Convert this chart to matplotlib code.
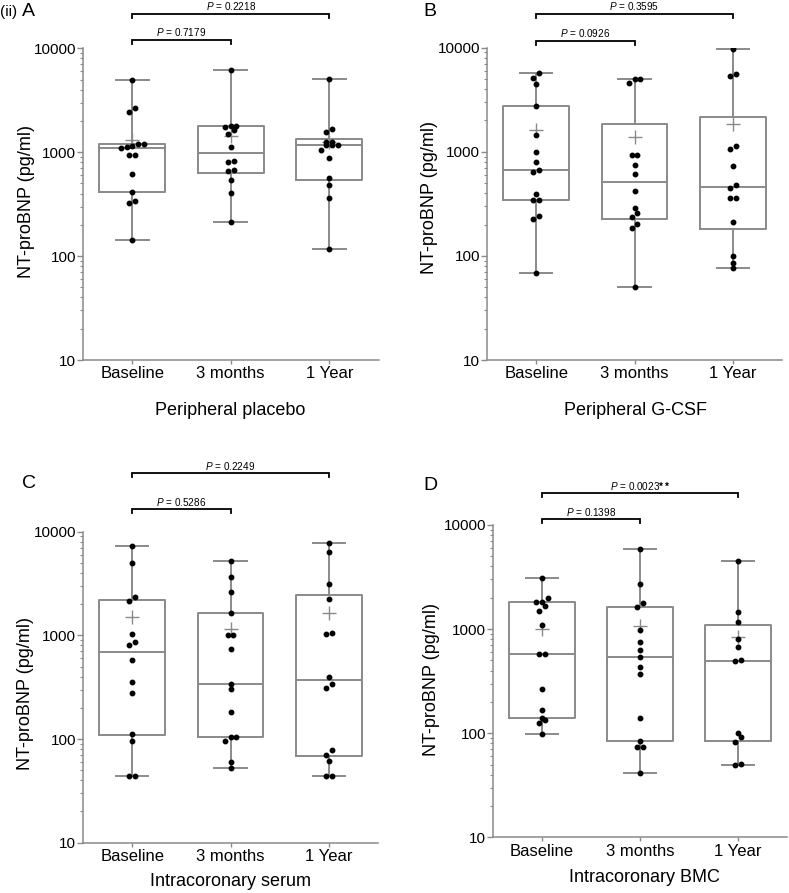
import numpy as np
import matplotlib
matplotlib.use("Agg")
import matplotlib.pyplot as plt
from matplotlib.ticker import FixedLocator, NullFormatter, LogLocator
from matplotlib.transforms import blended_transform_factory

plt.rcParams['font.family'] = ['Liberation Sans', 'DejaVu Sans']
plt.rcParams['mathtext.fontset'] = 'custom'
plt.rcParams['mathtext.rm'] = 'Liberation Sans'
plt.rcParams['mathtext.it'] = 'Liberation Sans:italic'
plt.rcParams['mathtext.bf'] = 'Liberation Sans:bold'

W, H = 789, 893
groups = ["Baseline", "3 months", "1 Year"]

# NT-proBNP values (pg/ml)
# A - peripheral placebo
a_base = [4920, 2685, 2424, 1209, 1110, 1100, 1156, 1209, 935, 935, 622, 412, 338, 321, 144]
a_3m = [6233, 1800, 1790, 1760, 1626, 1500, 1124, 830, 807, 676, 656, 542, 406, 212]
a_1y = [5035, 1663, 1556, 1256, 1256, 1167, 1167, 1167, 1059, 875, 566, 482, 364, 117.5]
a_p = ["0.7179", "0.2218"]

# B - peripheral G-CSF
b_base = [5750, 5150, 4480, 2754, 1460, 1003, 804, 664, 635, 393, 344, 344, 243, 228, 68]
b_3m = [5000, 5000, 4614, 938, 925, 747, 607, 417, 286, 260, 234, 201, 184, 50.6]
b_1y = [9780, 5630, 5310, 1137, 1064, 735, 477, 446, 362, 362, 210, 100.5, 85, 76]
b_p = ["0.0926", "0.3595"]

# C - intracoronary serum
c_base = [7340, 5000, 2323, 2144, 1033, 865, 804, 577, 357, 278, 113, 95.4, 43.7, 43.7]
c_3m = [5266, 3646, 2595, 1656, 1010, 1010, 736, 339, 301, 182, 104, 104, 95.4, 60.4, 52]
c_1y = [7780, 6340, 3147, 2222, 1047, 1025, 399, 337, 310, 78, 70.5, 61.8, 43.7, 43.7]
c_p = ["0.5286", "0.2249"]

# D - intracoronary BMC
d_base = [3110, 1972, 1829, 1805, 1674, 1499, 1093, 575, 571, 263, 166, 141, 134, 124, 98.6]
d_3m = [5868, 2704, 1778, 1616, 978, 750, 633, 535, 434, 372, 141, 83.4, 74, 74, 41.1]
d_1y = [4529, 1457, 1175, 807, 676, 500, 493, 99.5, 91.2, 82.6, 50.5, 49.4]
d_p = ["0.1398", "0.0023"]

GRAY = '#8a8a8a'


def fx(px):
    return px / W


def fy(py):
    return 1 - py / H


# Prism style stats: weibull quartiles, whiskers min to max
def box_stats(vals):
    v = np.asarray(vals, float)
    q1, med, q3 = np.percentile(v, [25, 50, 75], method='weibull')
    return dict(q1=q1, med=med, q3=q3, mean=v.mean(), whislo=v.min(), whishi=v.max(), fliers=[])


# spread points that overlap in y, centred like a small swarm
def swarm_offsets(vals, decade_px=104, gap_px=5.0, step=0.0575):
    y = np.log10(vals) * decade_px
    order = np.argsort(y)
    offs = np.zeros(len(y))
    grp = [order[0]]

    def place(g):
        for k, idx in enumerate(g):
            offs[idx] = (k - (len(g) - 1) / 2) * step

    for i in order[1:]:
        if y[i] - y[grp[0]] < gap_px:
            grp.append(i)
        else:
            place(grp)
            grp = [i]
    place(grp)
    return offs


def bracket(ax, x1, x2, up_px, h_px, text):
    tr = blended_transform_factory(ax.transData, ax.transAxes)
    y = 1 + up_px / h_px
    t = 4 / h_px
    ax.plot([x1, x1, x2, x2], [y - t, y, y, y - t], transform=tr, color='black',
            lw=1.3, clip_on=False, solid_joinstyle='miter')
    ax.text((x1 + x2) / 2, y + 1.5 / h_px, text, transform=tr, ha='center', va='bottom',
            fontsize=7.2, clip_on=False)


panels = [
    dict(box=(83, 48.3, 378.5, 360), data=[a_base, a_3m, a_1y], p=a_p, stars=["", ""],
         xlabel="Peripheral placebo", xl=(230.5, 410), yl=(27, 201), br=(8.3, 34.3)),
    dict(box=(487, 47.7, 782, 360), data=[b_base, b_3m, b_1y], p=b_p, stars=["", ""],
         xlabel="Peripheral G-CSF", xl=(635, 410), yl=(430, 198), br=(7.0, 33.7)),
    dict(box=(83, 531.7, 378, 842.7), data=[c_base, c_3m, c_1y], p=c_p, stars=["", ""],
         xlabel="Intracoronary serum", xl=(231, 881.7), yl=(25, 694), br=(22.7, 58.7)),
    dict(box=(493, 525, 786.7, 837.3), data=[d_base, d_3m, d_1y], p=d_p, stars=["", "**"],
         xlabel="Intracoronary BMC", xl=(644.7, 878), yl=(431, 680), br=(6.0, 31.7)),
]

fig = plt.figure(figsize=(W / 100, H / 100), dpi=100)

for pn in panels:
    l, t, r, b = pn['box']
    ax = fig.add_axes([fx(l), fy(b), (r - l) / W, (b - t) / H])
    h_px = b - t

    stats = [box_stats(v) for v in pn['data']]
    ax.bxp(stats, positions=[1, 2, 3], widths=0.67, capwidths=0.33, showmeans=True,
           showfliers=False, patch_artist=False,
           boxprops=dict(color=GRAY, lw=1.4),
           whiskerprops=dict(color=GRAY, lw=1.4),
           capprops=dict(color=GRAY, lw=1.4),
           medianprops=dict(color=GRAY, lw=1.4),
           meanprops=dict(marker='+', markeredgecolor=GRAY, markersize=10, mew=1.0))

    for i, vals in enumerate(pn['data']):
        xs = i + 1 + swarm_offsets(vals)
        ax.plot(xs, vals, 'o', color='black', ms=3.2, zorder=4)

    ax.set_yscale('log')
    ax.set_ylim(10, 10000)
    ax.set_xlim(0.5, 3.5)
    ax.yaxis.set_major_locator(FixedLocator([10, 100, 1000, 10000]))
    ax.set_yticklabels(["10", "100", "1000", "10000"])
    ax.yaxis.set_minor_locator(LogLocator(base=10, subs=np.arange(2, 10)))
    ax.yaxis.set_minor_formatter(NullFormatter())
    ax.set_xticks([1, 2, 3])
    ax.set_xticklabels(groups)

    for s in ['top', 'right']:
        ax.spines[s].set_visible(False)
    for s in ['left', 'bottom']:
        ax.spines[s].set_color(GRAY)
        ax.spines[s].set_linewidth(1.1)
    ax.tick_params(axis='y', which='major', length=4, width=1, color=GRAY, labelsize=11, pad=1)
    ax.tick_params(axis='y', which='minor', length=2.5, width=0.8, color=GRAY)
    ax.tick_params(axis='x', length=3, width=1, color=GRAY, labelsize=12, pad=1.5)

    bracket(ax, 1, 2, pn['br'][0], h_px, r"$P$ = " + pn['p'][0] + pn['stars'][0])
    if pn['stars'][1]:
        txt = r"$P$ = " + pn['p'][1] + r"$\mathbf{" + pn['stars'][1] + "}$"
    else:
        txt = r"$P$ = " + pn['p'][1]
    bracket(ax, 1, 3, pn['br'][1], h_px, txt)

    fig.text(fx(pn['xl'][0]), fy(pn['xl'][1]), pn['xlabel'], ha='center', va='center', fontsize=13)
    fig.text(fx(pn['yl'][0]), fy(pn['yl'][1]), "NT-proBNP (pg/ml)", ha='center', va='center',
             fontsize=13, rotation=90)

# panel letters
fig.text(fx(0), fy(12), "(ii)", ha='left', va='center', fontsize=11)
fig.text(fx(22), fy(12), "A", ha='left', va='center', fontsize=14)
fig.text(fx(423), fy(12), "B", ha='left', va='center', fontsize=14)
fig.text(fx(22), fy(483), "C", ha='left', va='center', fontsize=14)
fig.text(fx(423), fy(486), "D", ha='left', va='center', fontsize=14)

fig.savefig("out.png", dpi=100)
